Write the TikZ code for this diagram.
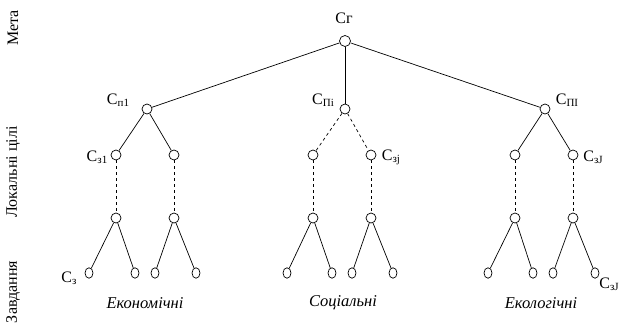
\documentclass[tikz,border=0pt]{standalone}
\usepackage{fontspec}
\usetikzlibrary{shapes.geometric}
\setmainfont{Liberation Serif}
\newcommand{\subtx}[1]{\raisebox{-2pt}{\fontsize{11}{12}\selectfont #1}}
\begin{document}
\begin{tikzpicture}[x=1pt,y=-1pt,
  vx/.style={circle,draw,fill=white,inner sep=0pt,minimum size=10pt,line width=0.7pt},
  lf/.style={ellipse,draw,fill=white,inner sep=0pt,minimum width=8pt,minimum height=10.5pt,line width=0.7pt},
  lbl/.style={inner sep=0pt,font=\fontsize{16}{18}\selectfont},
  grp/.style={inner sep=0pt,font=\fontsize{16.5}{18}\selectfont\itshape},
  side/.style={inner sep=0pt,rotate=90,font=\fontsize{16}{18}\selectfont},
  ed/.style={line width=0.7pt},
  dd/.style={line width=0.7pt,dashed,dash pattern=on 3pt off 3pt}]
\useasboundingbox (0,0) rectangle (620,332);
% level 0
\node[vx,minimum size=11pt] (r) at (345,41) {};
% level 1
\node[vx] (a) at (147,109) {};
\node[vx] (b) at (345,109) {};
\node[vx] (c) at (545,109) {};
% level 2
\node[vx] (a1) at (116,155) {};
\node[vx] (a2) at (174,155) {};
\node[vx] (b1) at (313,155) {};
\node[vx] (b2) at (371,155) {};
\node[vx] (c1) at (515,155) {};
\node[vx] (c2) at (573,155) {};
% level 3
\node[vx] (a1d) at (116,218) {};
\node[vx] (a2d) at (174,218) {};
\node[vx] (b1d) at (313,218) {};
\node[vx] (b2d) at (371,218) {};
\node[vx] (c1d) at (515,218) {};
\node[vx] (c2d) at (573,218) {};
% leaves
\node[lf] (l1) at (89,273) {};
\node[lf] (l2) at (135,273) {};
\node[lf] (l3) at (155,273) {};
\node[lf] (l4) at (196,273) {};
\node[lf] (m1) at (287,273) {};
\node[lf] (m2) at (332,273) {};
\node[lf] (m3) at (352,273) {};
\node[lf] (m4) at (393,273) {};
\node[lf] (n1) at (488,273) {};
\node[lf] (n2) at (533,273) {};
\node[lf] (n3) at (553,273) {};
\node[lf] (n4) at (595,273) {};
% edges
\draw[ed] (r) -- (a);
\draw[ed] (r) -- (b);
\draw[ed] (r) -- (c);
\draw[ed] (a) -- (a1);
\draw[ed] (a) -- (a2);
\draw[dd] (b) -- (b1);
\draw[dd] (b) -- (b2);
\draw[ed] (c) -- (c1);
\draw[ed] (c) -- (c2);
\foreach \p in {a1,a2,b1,b2,c1,c2}{\draw[dd] (\p) -- (\p d);}
\draw[ed] (a1d) -- (l1); \draw[ed] (a1d) -- (l2);
\draw[ed] (a2d) -- (l3); \draw[ed] (a2d) -- (l4);
\draw[ed] (b1d) -- (m1); \draw[ed] (b1d) -- (m2);
\draw[ed] (b2d) -- (m3); \draw[ed] (b2d) -- (m4);
\draw[ed] (c1d) -- (n1); \draw[ed] (c1d) -- (n2);
\draw[ed] (c2d) -- (n3); \draw[ed] (c2d) -- (n4);
% labels
\node[lbl] (tr) at (344,18) {Сг};
\node[lbl] (ta) at (118,100) {С\subtx{п1}};
\node[lbl] (tb) at (323,100) {С\subtx{Пi}};
\node[lbl] (tc) at (567,100) {С\subtx{ПІ}};
\node[lbl] (ta1) at (97,157) {С\subtx{з1}};
\node[lbl] (tb2) at (391,157) {С\subtx{зj}};
\node[lbl] (tc2) at (593,157) {С\subtx{зJ}};
\node[lbl] (tl1) at (69,278) {С\subtx{з}};
\node[lbl] (tn4) at (609,284) {С\subtx{зJ}};
\node[grp] (g1) at (145,303) {Економічні};
\node[grp] (g2) at (343,303) {Соціальні};
\node[grp] (g3) at (541,303) {Екологічні};
\node[side] (s1) at (13,28) {Мета};
\node[side] (s2) at (13,172) {Локальні цілі};
\node[side] (s3) at (13,292) {Завдання};
\end{tikzpicture}
\end{document}
